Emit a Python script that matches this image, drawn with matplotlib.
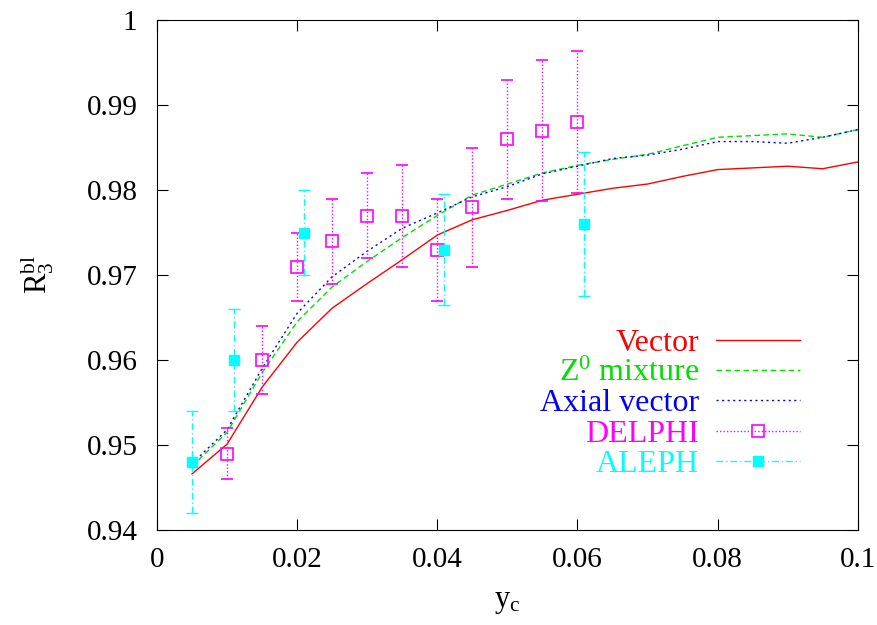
import matplotlib
matplotlib.use("Agg")
import matplotlib.pyplot as plt
from matplotlib.lines import Line2D

plt.rcParams['font.family'] = ['Liberation Serif', 'DejaVu Serif']
plt.rcParams['mathtext.fontset'] = 'custom'
plt.rcParams['mathtext.rm'] = 'Liberation Serif'
plt.rcParams['mathtext.it'] = 'Liberation Serif:italic'

# theory curves
yc = [0.005, 0.01, 0.015, 0.02, 0.025, 0.03, 0.035, 0.04, 0.045, 0.05,
      0.055, 0.06, 0.065, 0.07, 0.075, 0.08, 0.085, 0.09, 0.095, 0.1]
vector = [0.9466, 0.9501, 0.9568, 0.9621, 0.9661, 0.9690, 0.9718, 0.9747, 0.9765, 0.9776,
          0.9788, 0.9795, 0.9802, 0.9807, 0.9816, 0.9824, 0.9826, 0.9828, 0.9825, 0.9833]
z0_mix = [0.9475, 0.9515, 0.9585, 0.9645, 0.9686, 0.9716, 0.9744, 0.9770, 0.9794, 0.9807,
          0.9820, 0.9829, 0.9836, 0.9842, 0.9852, 0.9862, 0.9864, 0.9866, 0.9862, 0.9871]
axial = [0.9478, 0.9518, 0.9590, 0.9655, 0.9698, 0.9728, 0.9755, 0.9773, 0.9792, 0.9804,
         0.9819, 0.9828, 0.9837, 0.9841, 0.9848, 0.9857, 0.9857, 0.9855, 0.9862, 0.9871]

# data
delphi_x = [0.01, 0.015, 0.02, 0.025, 0.03, 0.035, 0.04, 0.045, 0.05, 0.055, 0.06]
delphi_y = [0.949, 0.960, 0.971, 0.974, 0.977, 0.977, 0.973, 0.978, 0.986, 0.987, 0.988]
delphi_err = [0.003, 0.004, 0.004, 0.005, 0.005, 0.006, 0.006, 0.007, 0.007, 0.0083, 0.0083]

aleph_x = [0.005, 0.011, 0.021, 0.041, 0.061]
aleph_y = [0.948, 0.960, 0.975, 0.973, 0.976]
aleph_err = [0.006, 0.006, 0.005, 0.0065, 0.0085]

xticks = [0, 0.02, 0.04, 0.06, 0.08, 0.1]
xlabels = ['0', '0.02', '0.04', '0.06', '0.08', '0.1']
yticks = [0.94, 0.95, 0.96, 0.97, 0.98, 0.99, 1.0]
ylabels = ['0.94', '0.95', '0.96', '0.97', '0.98', '0.99', '1']

fig = plt.figure(figsize=(8.77, 6.25), dpi=100)
ax = fig.add_axes([0.179, 0.152, 0.799, 0.816])

ax.plot(yc, vector, color='red', lw=1.0)
ax.plot(yc, z0_mix, color='#00e000', lw=1.0, ls=(0, (4, 2.5)))
ax.plot(yc, axial, color='blue', lw=1.0, ls=(0, (1.5, 2.5)))

eb = ax.errorbar(delphi_x, delphi_y, yerr=delphi_err, fmt='s', mfc='none', mec='magenta',
                 ms=8, mew=1.2, ecolor='magenta', elinewidth=1.0, capsize=4, capthick=1.0)
eb[2][0].set_linestyle((0, (1, 1.5)))
eb2 = ax.errorbar(aleph_x, aleph_y, yerr=aleph_err, fmt='s', mfc='cyan', mec='cyan',
                  ms=7, ecolor='cyan', elinewidth=1.0, capsize=4, capthick=1.0)
eb2[2][0].set_linestyle((0, (5, 2, 1, 2)))

ax.set_xlim(0, 0.1)
ax.set_ylim(0.94, 1.0)
ax.set_xticks(xticks)
ax.set_xticklabels(xlabels)
ax.set_yticks(yticks)
ax.set_yticklabels(ylabels)
ax.tick_params(direction='in', top=True, right=True, length=8, labelsize=21)
ax.tick_params(axis='y', pad=14)
ax.tick_params(axis='x', pad=12)
ax.set_xlabel(r'y$_{\rm c}$', fontsize=22, labelpad=10)
ax.set_ylabel(r'R$_3^{\rm bl}$', fontsize=22, labelpad=22)

handles = [
    Line2D([], [], color='red', lw=1.0),
    Line2D([], [], color='#00e000', lw=1.0, ls=(0, (4, 2.5))),
    Line2D([], [], color='blue', lw=1.0, ls=(0, (1.5, 2.5))),
    Line2D([], [], color='magenta', lw=1.0, ls=(0, (1, 1.5)), marker='s', mfc='none', ms=8, mew=1.2),
    Line2D([], [], color='cyan', lw=1.0, ls=(0, (5, 2, 1, 2)), marker='s', ms=7),
]
names = ['Vector', r'Z$^0$ mixture', 'Axial vector', 'DELPHI', 'ALEPH']
leg = ax.legend(handles, names, loc='lower right', bbox_to_anchor=(0.917, 0.1),
                frameon=False, markerfirst=False, numpoints=1, fontsize=23,
                handlelength=2.6, handletextpad=0.55, labelspacing=0.03,
                borderpad=0, borderaxespad=0,
                labelcolor=['red', '#00e000', 'blue', 'magenta', 'cyan'])

fig.savefig('out.png', dpi=100)
